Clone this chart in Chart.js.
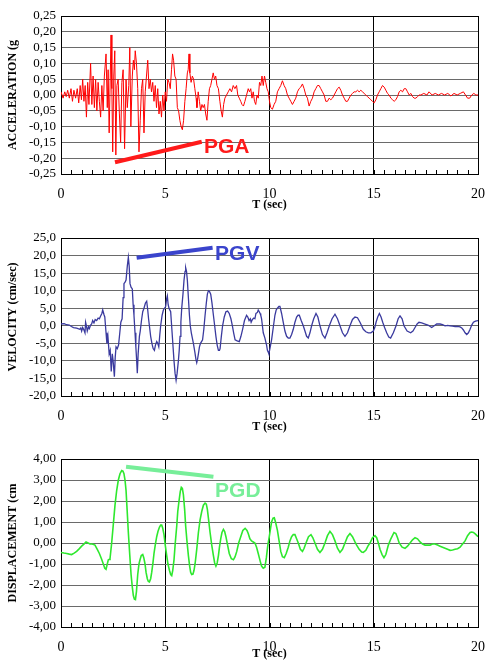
<!DOCTYPE html>
<html>
<head>
<meta charset="utf-8">
<script src="https://cdn.jsdelivr.net/npm/chart.js@4.4.1/dist/chart.umd.min.js"></script>
<style>
  body { margin: 0; background: #fff; }
  canvas { position: absolute; left: 0; }
</style>
</head>
<body>
<canvas id="accChart" width="493" height="215" style="top:0px"></canvas>
<canvas id="velChart" width="493" height="215" style="top:222px"></canvas>
<canvas id="dispChart" width="493" height="221" style="top:443px"></canvas>
<script>
// --- Acceleration record (g) ---
const accTime = [0.00,0.10,0.18,0.25,0.32,0.40,0.48,0.55,0.62,0.70,0.78,0.85,0.92,0.98,1.04,1.10,1.16,1.22,1.28,1.34,1.42,1.48,1.54,1.60,1.66,1.72,1.78,1.84,1.90,1.96,2.02,2.08,2.16,2.22,2.26,2.31,2.36,2.40,2.44,2.48,2.53,2.58,2.63,2.68,2.74,2.80,2.86,2.92,2.98,3.05,3.12,3.18,3.25,3.30,3.35,3.42,3.47,3.52,3.56,3.62,3.68,3.74,3.80,3.86,3.92,3.98,4.04,4.10,4.16,4.22,4.28,4.34,4.40,4.46,4.52,4.58,4.64,4.70,4.76,4.82,4.88,4.94,5.00,5.06,5.12,5.18,5.24,5.30,5.35,5.40,5.46,5.52,5.58,5.64,5.70,5.76,5.82,5.88,5.94,6.00,6.06,6.10,6.14,6.18,6.24,6.30,6.36,6.42,6.48,6.52,6.58,6.64,6.70,6.76,6.82,6.88,6.94,7.00,7.06,7.12,7.18,7.24,7.30,7.36,7.42,7.48,7.55,7.62,7.68,7.74,7.80,7.86,7.94,8.02,8.10,8.18,8.26,8.34,8.42,8.48,8.55,8.62,8.68,8.75,8.82,8.90,8.98,9.04,9.10,9.16,9.22,9.28,9.34,9.40,9.46,9.52,9.58,9.64,9.70,9.76,9.82,9.88,9.94,10.00,10.06,10.14,10.22,10.30,10.38,10.46,10.54,10.62,10.70,10.78,10.86,10.94,11.02,11.10,11.18,11.26,11.34,11.42,11.50,11.58,11.66,11.74,11.82,11.90,11.98,12.06,12.14,12.22,12.30,12.38,12.46,12.54,12.62,12.70,12.78,12.86,12.94,13.02,13.10,13.18,13.26,13.34,13.42,13.50,13.58,13.66,13.74,13.82,13.90,13.98,14.06,14.14,14.22,14.30,14.38,14.46,14.54,14.62,14.70,14.78,14.86,14.94,15.02,15.10,15.18,15.26,15.34,15.42,15.50,15.58,15.66,15.74,15.82,15.90,15.98,16.06,16.14,16.22,16.30,16.38,16.46,16.54,16.62,16.70,16.78,16.86,16.94,17.02,17.10,17.18,17.26,17.40,17.55,17.65,17.80,17.95,18.10,18.25,18.40,18.55,18.70,18.85,19.00,19.15,19.30,19.40,19.50,19.60,19.70,19.80,19.90,20.00];
const accValues = [0.01,-0.01,0.01,-0.005,0.015,-0.01,0.02,-0.02,0.015,-0.01,0.02,-0.025,0.03,-0.015,0.05,-0.02,0.03,-0.07,0.04,-0.03,0.10,-0.03,0.06,-0.04,0.05,-0.05,0.04,-0.02,-0.07,0.03,-0.05,0.06,0.13,-0.04,0.08,-0.12,0.05,0.19,0.02,-0.18,0.06,0.14,-0.19,0.03,0.05,-0.06,-0.15,0.04,0.08,-0.17,0.05,-0.04,0.03,0.15,-0.10,0.06,0.11,0.08,0.14,0.10,0.02,-0.18,-0.08,0.02,0.05,-0.12,0.01,0.06,0.11,0.02,0.05,0.01,0.04,-0.02,0.03,-0.04,0.02,-0.06,-0.02,-0.07,0.00,-0.05,0.01,-0.02,0.05,0.04,0.02,0.08,0.13,0.11,0.06,0.05,-0.04,-0.05,-0.08,-0.10,-0.11,-0.08,-0.02,0.02,0.07,0.08,0.13,0.07,0.04,0.06,0.05,0.02,-0.01,-0.04,0.01,-0.02,-0.05,-0.03,-0.04,-0.03,-0.06,-0.08,-0.02,0.02,0.03,0.05,0.07,0.05,0.06,0.03,0.02,-0.02,-0.05,-0.07,-0.03,-0.01,0.00,0.01,0.02,0.01,0.03,0.02,0.03,0.00,-0.01,-0.02,-0.03,-0.035,-0.02,0.00,0.02,0.01,0.02,-0.01,0.01,-0.02,-0.03,0.00,-0.01,0.04,0.03,0.06,0.03,0.06,0.04,0.02,0.01,-0.02,-0.04,-0.045,-0.03,-0.02,0.01,0.02,0.03,0.045,0.03,0.02,0.00,-0.01,-0.02,-0.03,-0.02,-0.01,0.01,0.02,0.025,0.035,0.02,0.00,-0.01,-0.035,-0.02,-0.01,0.01,0.02,0.03,0.03,0.02,0.01,0.00,-0.02,-0.02,-0.01,-0.015,-0.01,0.00,0.01,0.02,0.025,0.015,0.00,-0.01,-0.02,-0.02,-0.01,0.00,0.005,0.01,0.01,0.015,0.01,0.015,0.01,0.005,0.00,-0.005,-0.01,-0.015,-0.02,-0.025,-0.015,0.00,0.01,0.02,0.03,0.025,0.015,0.005,0.00,-0.01,-0.015,-0.02,-0.015,-0.005,0.01,0.015,0.01,0.02,0.02,0.01,0.00,0.005,-0.005,-0.01,-0.01,-0.005,0.00,0.00,0.005,0.00,0.01,0.00,0.005,0.00,0.005,0.00,0.005,-0.003,0.005,0.00,0.005,0.01,0.00,-0.01,-0.01,0.00,0.005,0.00,0.00];

// --- Velocity record (cm/sec) ---
const velTime = [0.00,0.15,0.27,0.40,0.50,0.60,0.75,0.90,0.95,0.99,1.04,1.10,1.15,1.18,1.22,1.26,1.32,1.36,1.42,1.47,1.52,1.58,1.64,1.71,1.78,1.84,1.90,1.96,2.00,2.06,2.10,2.16,2.20,2.25,2.31,2.36,2.41,2.46,2.50,2.56,2.60,2.64,2.70,2.76,2.82,2.87,2.93,2.98,3.02,3.08,3.12,3.18,3.23,3.27,3.31,3.36,3.42,3.46,3.50,3.55,3.59,3.63,3.66,3.70,3.76,3.80,3.86,3.92,3.98,4.05,4.11,4.16,4.20,4.25,4.30,4.36,4.42,4.48,4.53,4.59,4.64,4.69,4.74,4.78,4.85,4.91,4.97,5.02,5.06,5.10,5.14,5.18,5.26,5.30,5.34,5.38,5.42,5.47,5.52,5.57,5.63,5.67,5.71,5.75,5.79,5.85,5.90,5.95,5.98,6.02,6.06,6.11,6.16,6.20,6.25,6.30,6.35,6.42,6.47,6.51,6.55,6.59,6.64,6.69,6.74,6.79,6.85,6.91,6.97,7.02,7.07,7.12,7.18,7.24,7.31,7.37,7.43,7.49,7.55,7.60,7.63,7.69,7.75,7.83,7.91,7.99,8.07,8.15,8.22,8.28,8.35,8.45,8.55,8.63,8.71,8.80,8.90,8.96,9.02,9.08,9.12,9.18,9.25,9.30,9.35,9.42,9.46,9.51,9.55,9.58,9.62,9.70,9.78,9.86,9.90,9.94,9.97,10.02,10.10,10.18,10.26,10.32,10.38,10.45,10.50,10.58,10.66,10.74,10.82,10.90,10.98,11.06,11.14,11.22,11.30,11.37,11.43,11.52,11.62,11.70,11.78,11.86,11.94,12.02,12.12,12.23,12.32,12.42,12.54,12.66,12.76,12.87,13.00,13.14,13.26,13.38,13.50,13.62,13.74,13.86,13.98,14.10,14.22,14.34,14.42,14.50,14.62,14.74,14.86,14.98,15.05,15.11,15.19,15.27,15.35,15.43,15.52,15.62,15.72,15.81,15.94,16.07,16.17,16.26,16.36,16.45,16.60,16.77,16.88,16.98,17.08,17.17,17.30,17.46,17.60,17.78,17.90,18.02,18.18,18.30,18.42,18.55,18.66,18.78,18.90,19.02,19.14,19.22,19.30,19.38,19.46,19.54,19.62,19.70,19.78,19.88,20.00];
const velValues = [0.5,0.6,0.3,0.2,-0.2,-0.5,-0.7,-1.0,-0.6,-1.5,-0.5,-1.2,-2.0,1.0,0.0,-1.5,-0.3,-0.8,0.2,0.5,1.5,0.8,1.8,1.5,2.2,2.0,2.8,3.5,4.5,3.2,2.5,-2.0,-5.0,-3.0,-8.0,-7.0,-13.0,-8.0,-10.0,-14.5,-9.0,-6.0,-6.5,-5.5,-2.0,1.0,2.0,8.0,12.0,12.5,13.0,17.0,19.5,17.0,12.0,11.0,10.5,6.0,3.0,-2.0,-6.0,-10.0,-13.5,-8.0,-3.0,-1.5,1.5,4.0,5.0,6.5,7.0,4.5,2.0,-0.5,-3.0,-5.0,-6.5,-7.0,-5.5,-4.5,-5.0,-6.0,-2.5,0.0,3.0,4.5,5.0,5.5,7.5,8.5,6.0,5.0,4.0,0.5,-3.0,-6.5,-10.0,-13.5,-15.5,-13.5,-10.0,-7.0,-3.0,1.0,5.0,9.0,13.0,15.5,16.5,15.5,13.0,8.0,3.0,0.0,-2.0,-3.5,-5.0,-7.5,-9.5,-10.5,-9.5,-8.0,-6.0,-5.0,-4.5,-4.0,-1.0,3.0,6.5,9.0,10.0,9.8,9.0,6.5,3.0,0.0,-3.0,-5.5,-7.0,-7.0,-6.5,-3.0,0.0,2.5,4.0,4.2,3.5,2.0,0.0,-2.0,-4.0,-4.3,-4.5,-3.0,-1.0,1.5,3.0,2.5,1.5,2.0,1.0,1.8,2.2,2.0,3.5,3.8,4.5,4.0,3.5,3.0,2.0,-2.0,-3.5,-5.5,-7.0,-7.5,-8.0,-6.5,-4.0,-0.5,3.0,4.5,5.0,5.5,5.5,3.5,1.0,-1.5,-3.0,-3.5,-3.5,-2.5,-1.0,1.0,2.5,3.0,3.0,1.5,0.0,-1.5,-3.0,-3.5,-2.0,0.0,2.0,3.5,2.5,0.0,-2.5,-3.5,-2.0,0.0,2.0,3.3,2.0,0.0,-2.0,-3.0,-2.0,0.0,1.8,2.5,2.3,1.0,0.0,-1.0,-1.7,-2.0,-2.0,-1.5,-0.5,1.0,2.5,3.5,2.5,1.0,-0.5,-2.0,-3.2,-3.5,-2.0,0.0,2.0,2.8,2.0,0.0,-1.5,-2.0,-1.5,-0.5,0.5,1.0,0.8,0.5,0.2,-0.5,0.0,0.5,0.5,0.3,0.0,0.1,0.0,-0.1,-0.2,-0.2,-0.3,-0.6,-1.2,-2.0,-2.5,-2.0,-1.0,0.2,1.0,1.3,1.5];

// --- Displacement record (cm) ---
const dispTime = [0.00,0.14,0.27,0.40,0.51,0.63,0.75,0.87,0.99,1.10,1.20,1.30,1.39,1.50,1.63,1.74,1.84,1.94,2.03,2.10,2.16,2.22,2.27,2.32,2.35,2.43,2.51,2.59,2.67,2.75,2.83,2.91,2.97,3.02,3.07,3.12,3.17,3.23,3.30,3.36,3.42,3.47,3.52,3.57,3.62,3.68,3.74,3.79,3.85,3.92,3.97,4.03,4.08,4.14,4.19,4.24,4.30,4.35,4.41,4.46,4.52,4.59,4.65,4.72,4.78,4.83,4.88,4.94,5.00,5.07,5.13,5.20,5.26,5.31,5.36,5.42,5.48,5.55,5.60,5.66,5.72,5.77,5.82,5.87,5.93,5.98,6.04,6.11,6.17,6.22,6.27,6.33,6.38,6.43,6.51,6.59,6.67,6.75,6.83,6.91,6.97,7.02,7.08,7.15,7.23,7.31,7.37,7.43,7.49,7.55,7.60,7.66,7.72,7.79,7.85,7.91,7.99,8.07,8.17,8.27,8.35,8.43,8.52,8.62,8.72,8.83,8.92,8.98,9.06,9.14,9.22,9.30,9.38,9.46,9.55,9.62,9.70,9.78,9.85,9.92,9.99,10.05,10.10,10.17,10.23,10.30,10.38,10.46,10.54,10.62,10.71,10.80,10.90,10.98,11.06,11.14,11.22,11.30,11.38,11.48,11.58,11.66,11.75,11.87,11.99,12.08,12.18,12.30,12.42,12.54,12.66,12.78,12.90,13.02,13.14,13.26,13.38,13.50,13.62,13.74,13.86,13.98,14.10,14.18,14.30,14.42,14.50,14.62,14.72,14.82,14.94,15.06,15.14,15.22,15.30,15.40,15.49,15.58,15.70,15.82,15.97,16.06,16.14,16.22,16.36,16.50,16.62,16.74,16.86,16.98,17.10,17.22,17.34,17.46,17.58,17.70,17.82,17.94,18.06,18.18,18.30,18.42,18.54,18.66,18.78,18.90,19.02,19.14,19.26,19.38,19.50,19.62,19.70,19.78,19.88,20.00];
const dispValues = [-0.45,-0.48,-0.5,-0.53,-0.55,-0.48,-0.4,-0.28,-0.15,-0.05,0.05,0.0,-0.05,-0.05,-0.1,-0.3,-0.5,-0.75,-1.0,-1.2,-1.25,-1.0,-0.8,-0.78,-0.75,0.0,0.9,1.8,2.5,3.0,3.3,3.45,3.42,3.3,3.0,2.5,1.6,0.5,-0.6,-1.5,-2.1,-2.5,-2.68,-2.7,-2.3,-1.5,-1.0,-0.8,-0.6,-0.55,-0.7,-1.0,-1.4,-1.7,-1.83,-1.85,-1.7,-1.4,-0.95,-0.5,-0.1,0.3,0.55,0.75,0.85,0.85,0.7,0.4,-0.1,-0.6,-1.0,-1.3,-1.5,-1.55,-1.3,-0.8,0.0,0.8,1.5,2.0,2.45,2.65,2.6,2.3,1.6,0.8,0.1,-0.6,-1.1,-1.4,-1.5,-1.48,-1.3,-1.0,-0.3,0.5,1.1,1.5,1.8,1.9,1.85,1.6,1.1,0.5,-0.1,-0.6,-0.95,-1.1,-0.95,-0.6,-0.2,0.2,0.5,0.65,0.55,0.3,-0.1,-0.5,-0.75,-0.8,-0.65,-0.4,0.0,0.3,0.6,0.7,0.6,0.45,0.2,0.1,0.05,0.0,-0.2,-0.5,-0.85,-1.1,-1.2,-1.15,-0.7,-0.1,0.3,0.7,1.0,1.18,1.2,0.95,0.6,0.1,-0.4,-0.65,-0.7,-0.5,-0.2,0.1,0.3,0.4,0.4,0.2,0.0,-0.3,-0.4,-0.25,0.0,0.3,0.4,0.25,0.0,-0.3,-0.45,-0.3,0.0,0.35,0.55,0.4,0.1,-0.25,-0.45,-0.3,0.0,0.3,0.45,0.3,0.05,-0.1,-0.3,-0.43,-0.45,-0.35,-0.15,0.0,0.25,0.35,0.25,0.0,-0.3,-0.55,-0.7,-0.55,-0.1,0.2,0.5,0.45,0.25,0.0,-0.2,-0.25,-0.15,0.0,0.15,0.25,0.2,0.05,-0.05,-0.1,-0.1,-0.1,-0.05,-0.05,-0.1,-0.15,-0.2,-0.25,-0.3,-0.35,-0.33,-0.3,-0.27,-0.2,-0.05,0.1,0.35,0.5,0.52,0.5,0.42,0.3];

// x axis (sec)
const timeMin = 0, timeMax = 20, timeStep = 5, minorStep = 0.5;

const SERIF = "'Liberation Serif', 'Times New Roman', serif";
const SANS = "'Liberation Sans', Arial, sans-serif";
Chart.defaults.font.family = SERIF;
Chart.defaults.color = '#000';

// small tick marks along the time axis, pointing up into the plot
const minorTicks = {
    id: 'minorTicks',
    afterDatasetsDraw(chart) {
        const x = chart.scales.x, ctx = chart.ctx, bottom = chart.chartArea.bottom;
        ctx.save();
        ctx.strokeStyle = '#000';
        ctx.lineWidth = 1;
        ctx.beginPath();
        for (let v = timeMin; v <= timeMax; v += minorStep) {
            const px = Math.round(x.getPixelForValue(v)) + 0.5;
            ctx.moveTo(px, bottom);
            ctx.lineTo(px, bottom - 4);
        }
        ctx.stroke();
        ctx.restore();
    }
};

// peak value callout (PGA / PGV / PGD)
const peakNote = {
    id: 'peakNote',
    afterDatasetsDraw(chart, args, opts) {
        if (!opts.text) return;
        const x = chart.scales.x, y = chart.scales.y, ctx = chart.ctx;
        ctx.save();
        ctx.strokeStyle = opts.color;
        ctx.lineWidth = 4;
        ctx.beginPath();
        ctx.moveTo(x.getPixelForValue(opts.from[0]), y.getPixelForValue(opts.from[1]));
        ctx.lineTo(x.getPixelForValue(opts.to[0]), y.getPixelForValue(opts.to[1]));
        ctx.stroke();
        ctx.fillStyle = opts.color;
        ctx.font = 'bold 21px ' + SANS;
        ctx.textAlign = 'left';
        ctx.textBaseline = 'middle';
        ctx.fillText(opts.text, x.getPixelForValue(opts.at[0]), y.getPixelForValue(opts.at[1]));
        ctx.restore();
    }
};

function makePanel(id, cfg) {
    const canvas = document.getElementById(id);
    const plotBottom = cfg.plotBottom;
    return new Chart(canvas, {
        type: 'line',
        data: {
            datasets: [{
                data: cfg.time.map((t, i) => ({ x: t, y: cfg.values[i] })),
                borderColor: cfg.color,
                borderWidth: cfg.lineWidth,
                pointRadius: 0,
                tension: 0,
                fill: false
            }]
        },
        options: {
            responsive: false,
            animation: false,
            events: [],
            layout: { padding: { top: 16, right: 15, left: 0, bottom: 0 } },
            plugins: {
                legend: { display: false },
                tooltip: { enabled: false },
                peakNote: cfg.note
            },
            scales: {
                x: {
                    type: 'linear',
                    min: timeMin,
                    max: timeMax,
                    afterFit: (s) => {
                        s.height = canvas.height - plotBottom;
                        s.paddingLeft = 0;
                        s.paddingRight = 0;
                    },
                    ticks: { stepSize: timeStep, padding: 12, font: { size: 14 }, maxRotation: 0 },
                    grid: { color: '#000', drawTicks: false },
                    border: { color: '#000' },
                    title: { display: true, text: 'T (sec)', font: { size: 12, weight: 'bold' }, padding: { bottom: 3 } }
                },
                y: {
                    min: cfg.yMin,
                    max: cfg.yMax,
                    afterFit: (s) => { s.width = 61; },
                    ticks: {
                        stepSize: cfg.yStep,
                        autoSkip: false,
                        padding: 5,
                        font: { size: 13 },
                        callback: (v) => v.toFixed(cfg.decimals).replace('.', ',')
                    },
                    grid: {
                        drawTicks: false,
                        color: (c) => (c.tick && (Math.abs(c.tick.value - cfg.yMax) < 1e-9)) ? '#000' : '#6a6a6a'
                    },
                    border: { color: '#000' },
                    title: { display: true, text: cfg.title, font: { size: 12, weight: 'bold' }, padding: { top: 6 } }
                }
            }
        },
        plugins: [minorTicks, peakNote]
    });
}

makePanel('accChart', {
    time: accTime, values: accValues, color: '#ff0000', lineWidth: 1,
    yMin: -0.25, yMax: 0.25, yStep: 0.05, decimals: 2, plotBottom: 174,
    title: 'ACCELERATION (g',
    note: { text: 'PGA', color: '#ff1a1a', from: [2.59, -0.213], to: [6.75, -0.148], at: [6.86, -0.164] }
});

makePanel('velChart', {
    time: velTime, values: velValues, color: '#3a3a9e', lineWidth: 1.3,
    yMin: -20, yMax: 25, yStep: 5, decimals: 1, plotBottom: 174,
    title: 'VELOCITY (cm/sec)',
    note: { text: 'PGV', color: '#3a44cc', from: [3.63, 19.4], to: [7.27, 22.25], at: [7.39, 20.5] }
});

makePanel('dispChart', {
    time: dispTime, values: dispValues, color: '#2ee82e', lineWidth: 1.6,
    yMin: -4, yMax: 4, yStep: 1, decimals: 2, plotBottom: 184,
    title: 'DISPLACEMENT (cm',
    note: { text: 'PGD', color: '#77ee99', from: [3.12, 3.63], to: [7.31, 3.16], at: [7.39, 2.48] }
});
</script>
</body>
</html>
